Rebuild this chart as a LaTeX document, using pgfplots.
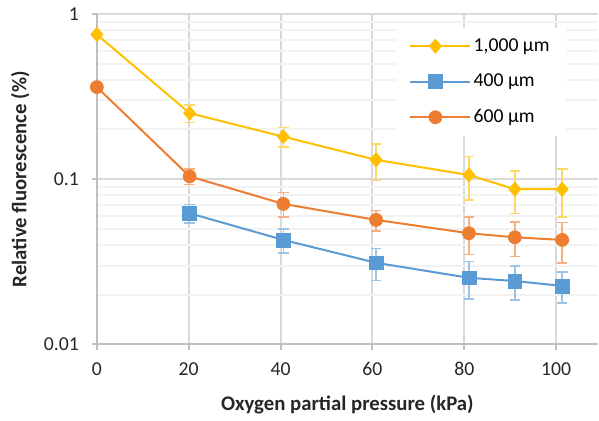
\documentclass[border=0pt]{standalone}
\usepackage{fontspec}
\setmainfont{Carlito}
\usepackage{pgfplots}
\pgfplotsset{compat=1.18}

\definecolor{c1000}{HTML}{FFC000}
\definecolor{c400}{HTML}{5B9BD5}
\definecolor{c600}{HTML}{ED7D31}
\definecolor{e1000}{HTML}{FFD966}
\definecolor{e400}{HTML}{9DC3E6}
\definecolor{e600}{HTML}{F4B183}
\definecolor{gridmaj}{HTML}{D9D9D9}
\definecolor{gridmin}{HTML}{F2F2F2}
\definecolor{axisgray}{HTML}{BFBFBF}

\begin{document}
\begin{tikzpicture}
\begin{axis}[
    scale only axis,
    width=376.5pt,
    height=248.25pt,
    ymode=log,
    xmin=0, xmax=109.1,
    ymin=0.01, ymax=1,
    xtick={0,20,40,60,80,100},
    ytick={0.01,0.1,1},
    yticklabels={0.01,0.1,1},
    /pgf/number format/assume math mode=true,
    tick label style={font=\fontsize{14.8}{17}\selectfont, color=black!85},
    xmajorgrids=true,
    ymajorgrids=true,
    yminorgrids=true,
    major grid style={gridmaj, line width=1.5pt},
    minor grid style={gridmin, line width=1.5pt},
    minor tick length=0pt,
    tick align=outside,
    major tick length=4pt,
    tick style={axisgray, line width=1.5pt},
    axis x line*=bottom,
    axis y line*=left,
    axis line style={-, axisgray, line width=1.5pt},
    xticklabel style={yshift=-6pt},
    yticklabel style={xshift=-6pt},
    xlabel={Oxygen partial pressure (kPa)},
    ylabel={Relative fluorescence (\%)},
    label style={font=\bfseries\fontsize{15.6}{18}\selectfont, color=black!85},
    xlabel style={at={(axis description cs:0.5,-0.181)}, anchor=center},
    ylabel style={at={(axis description cs:-0.153,0.5)}, anchor=center},
    legend style={at={(axis description cs:0.596,0.958)}, anchor=north west,
        draw=none, fill=white, font=\fontsize{14.8}{17}\selectfont,
        row sep=11.5pt, inner xsep=10pt, inner ysep=6pt},
    legend cell align=left,
    legend image code/.code={
        \draw[mark repeat=2, mark phase=2] plot coordinates {(0pt,0pt) (19pt,0pt) (38pt,0pt)};
        \path (38pt,0pt) -- (45pt,0pt);
    },
]
% 1,000 um
\addplot[c1000, line width=1.5pt, mark=diamond*, mark size=5.3pt,
    mark options={fill=c1000, draw=c1000, line width=0.5pt, xscale=1.15},
    error bars/.cd, y dir=both, y explicit,
    error bar style={e1000, line width=1.2pt},
    error mark options={rotate=90, mark size=4pt, e1000, line width=1.2pt}]
coordinates {
    (0,0.752) +- (0,0)
    (20.2,0.251) +- (0,0.030)
    (40.6,0.181) +- (0,0.024)
    (60.8,0.131) +- (0,0.033)
    (81,0.106) +- (0,0.031)
    (91,0.087) +- (0,0.025)
    (101.3,0.087) +- (0,0.028)
};
\addlegendentry{1,000 µm}

% 400 um
\addplot[c400, line width=1.5pt, mark=square*, mark size=5.2pt,
    mark options={fill=c400, draw=c400, line width=0.5pt},
    error bars/.cd, y dir=both, y explicit,
    error bar style={e400, line width=1.2pt},
    error mark options={rotate=90, mark size=4pt, e400, line width=1.2pt}]
coordinates {
    (20.2,0.0622) +- (0,0.008)
    (40.6,0.0429) +- (0,0.007)
    (60.8,0.0312) +- (0,0.0068)
    (81,0.0253) +- (0,0.0065)
    (91,0.0242) +- (0,0.0057)
    (101.3,0.0226) +- (0,0.0048)
};
\addlegendentry{400 µm}

% 600 um
\addplot[c600, line width=1.5pt, mark=*, mark size=4.9pt,
    mark options={fill=c600, draw=c600, line width=0.5pt},
    error bars/.cd, y dir=both, y explicit,
    error bar style={e600, line width=1.2pt},
    error mark options={rotate=90, mark size=4pt, e600, line width=1.2pt}]
coordinates {
    (0,0.361) +- (0,0)
    (20.2,0.104) +- (0,0.011)
    (40.6,0.0709) +- (0,0.012)
    (60.8,0.0567) +- (0,0.008)
    (81,0.0471) +- (0,0.012)
    (91,0.0445) +- (0,0.0105)
    (101.3,0.0429) +- (0,0.0117)
};
\addlegendentry{600 µm}
\end{axis}
\path[use as bounding box] (-72.75pt,-57pt) rectangle (376.5pt,258.75pt);
\end{tikzpicture}
\end{document}
